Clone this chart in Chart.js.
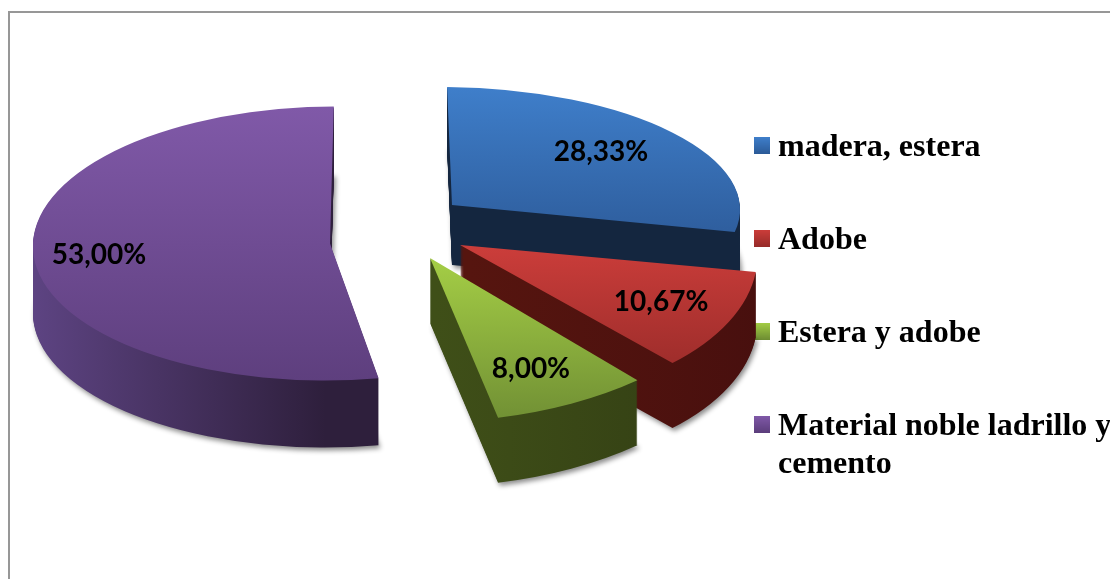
<!DOCTYPE html>
<html><head><meta charset="utf-8">
<style>html,body{margin:0;padding:0;background:#fff;overflow:hidden}canvas{display:block}</style>
<script src="https://cdn.jsdelivr.net/npm/chart.js@4"></script>
</head><body><canvas id="c" width="1110" height="579"></canvas>
<script>
const categories = ['madera, estera', 'Adobe', 'Estera y adobe', ['Material noble ladrillo y', 'cemento']];
const values = [28.33, 10.67, 8.00, 53.00];

// Styling only
const topColors = [['#3f7fcb', '#2f5f9f'], ['#cb3d3a', '#9e2d2b'], ['#a3cc45', '#708f34'], ['#8059a8', '#5e3f7e']];
const wallColors = [['#14263f', '#14263f'], ['#56150f', '#470f0e'], ['#3f4f18', '#313c13'], ['#5f4585', '#2e1f3c']];
const legendSwatch = [['#3f7fcb', '#2b5a97'], ['#cb3d3a', '#962b29'], ['#a3cc45', '#6d8c32'], ['#8059a8', '#5b3d7b']];
const radiiX = [288, 296, 317, 297];
const radiiY = [118, 159, 164, 137];
const nudgeX = [4.7, 7.6, 5.9, -0.3];
const nudgeY = [-4.3, 1.6, 3.1, 12.7];
const skewX = [0.042, 0.19, 0.048, -0.04];
const skewY = [0.0086, -0.022, -0.022, 0];
const labelFactorX = [0.666, 0.794, 0.748, 0.781];
const labelFactorY = [0.713, 0.692, 0.748, 0.9];
const depths = [60, 65, 65, 67];
const drawOrder = [3, 0, 1, 2];
const pieCentre = { x: 396, y: 228 }, explodePx = 66, squash = 0.45;

function swatch(cols) {
  const cv = document.createElement('canvas'); cv.width = 16; cv.height = 21;
  const g = cv.getContext('2d'), lg = g.createLinearGradient(0, 0, 0, 17);
  lg.addColorStop(0, cols[0]); lg.addColorStop(1, cols[1]);
  g.fillStyle = lg; g.fillRect(0, 0, 16, 17);
  return cv;
}

function sliceView(arc, i) {
  const h = (arc.startAngle + arc.endAngle) / 2;
  const apexX = pieCentre.x + Math.cos(h) * explodePx + nudgeX[i];
  const apexY = pieCentre.y + Math.sin(h) * explodePx * squash + nudgeY[i];
  const o = arc.options.offset / 4, fix = 1 - Math.sin(Math.min(Math.PI, arc.circumference));
  const R = arc.outerRadius + o * fix, sx = radiiX[i] / R, sy = radiiY[i] / R;
  const ax = arc.x + Math.cos(h) * o, ay = arc.y + Math.sin(h) * o;
  return { h, apexX, apexY, sx, sy, ax, ay, R };
}

function paintArc(ctx, arc, fill) {
  const o = arc.options;
  const saved = arc.options;
  arc.options = { offset: o.offset, spacing: 0, borderAlign: 'center', borderWidth: 0, circular: true,
    backgroundColor: fill, borderColor: fill, borderRadius: 0, borderJoinStyle: 'round', borderDash: [], borderDashOffset: 0, selfJoin: false };
  arc.draw(ctx);
  arc.options = saved;
}

const pie3d = {
  id: 'pie3d',
  beforeDraw(chart) {
    const ctx = chart.ctx;
    ctx.save();
    ctx.fillStyle = '#fff'; ctx.fillRect(0, 0, chart.width, chart.height);
    ctx.strokeStyle = '#979797'; ctx.lineWidth = 2;
    ctx.strokeRect(9, 12, chart.width + 20, chart.height + 20);
    ctx.restore();
  },
  beforeDatasetDraw() { return false; },
  afterLayout(chart) {
    const l = chart.legend, w = l.width, h = l.height;
    l.left = 701; l.right = 701 + w; l.top = 70.5; l.bottom = 70.5 + h;
  },
  afterDatasetsDraw(chart) {
    const ctx = chart.ctx, arcs = chart.getDatasetMeta(0).data;
    drawOrder.forEach(i => {
      const arc = arcs[i], v = sliceView(arc, i);
      const setView = extra => {
        ctx.translate(v.apexX, v.apexY + extra);
        ctx.transform(1, skewY[i], skewX[i], 1, 0, 0);
        ctx.scale(v.sx, v.sy);
        ctx.translate(-v.ax, -v.ay);
      };
      // side walls: the arc element repeated downward
      const wg = ctx.createLinearGradient(v.ax - v.R, 0, v.ax + v.R, 0);
      if (i === 3) { wg.addColorStop(0, wallColors[i][0]); wg.addColorStop(0.52, wallColors[i][1]); }
      else { wg.addColorStop(0.5, wallColors[i][0]); wg.addColorStop(1, wallColors[i][1]); }
      for (let d = depths[i]; d >= 1; d--) {
        ctx.save();
        if (d === depths[i]) { ctx.shadowColor = 'rgba(0,0,0,0.45)'; ctx.shadowBlur = 5; ctx.shadowOffsetX = 2; ctx.shadowOffsetY = 3; }
        setView(d);
        paintArc(ctx, arc, wg);
        ctx.restore();
      }
      // top face
      let yMin = v.ay, yMax = v.ay;
      for (let k = 0; k <= 32; k++) {
        const a = arc.startAngle + (arc.endAngle - arc.startAngle) * k / 32, y = v.ay + Math.sin(a) * v.R;
        yMin = Math.min(yMin, y); yMax = Math.max(yMax, y);
      }
      const tg = ctx.createLinearGradient(0, yMin, 0, yMax);
      tg.addColorStop(0, topColors[i][0]); tg.addColorStop(1, topColors[i][1]);
      ctx.save(); setView(0); paintArc(ctx, arc, tg); ctx.restore();
    });
    // value labels
    ctx.save();
    ctx.font = 'bold 28px Lato, sans-serif';
    ctx.fillStyle = '#000'; ctx.textAlign = 'center'; ctx.textBaseline = 'middle';
    arcs.forEach((arc, i) => {
      const v = sliceView(arc, i);
      const x = v.apexX + Math.cos(v.h) * radiiX[i] * labelFactorX[i];
      const y = v.apexY + Math.sin(v.h) * radiiY[i] * labelFactorY[i];
      ctx.fillText(values[i].toFixed(2).replace('.', ',') + '%', x, y);
    });
    ctx.restore();
  }
};

new Chart(document.getElementById('c'), {
  type: 'pie',
  data: { labels: categories, datasets: [{ data: values, backgroundColor: topColors.map(c => c[0]), borderWidth: 0, offset: 40, hoverOffset: 0 }] },
  options: {
    responsive: false, animation: false, events: [],
    plugins: {
      tooltip: { enabled: false },
      legend: {
        position: 'right', align: 'start',
        labels: {
          usePointStyle: true, pointStyleWidth: 0.01, padding: 61, color: '#000',
          font: { family: '"Liberation Serif", serif', size: 32, weight: 'bold', lineHeight: 1.1875 },
          generateLabels: () => categories.map((t, i) => ({
            text: t, fillStyle: legendSwatch[i][0], strokeStyle: 'transparent', lineWidth: 0,
            pointStyle: swatch(legendSwatch[i]), hidden: false, index: i, fontColor: '#000'
          }))
        }
      }
    }
  },
  plugins: [pie3d]
});
</script></body></html>
